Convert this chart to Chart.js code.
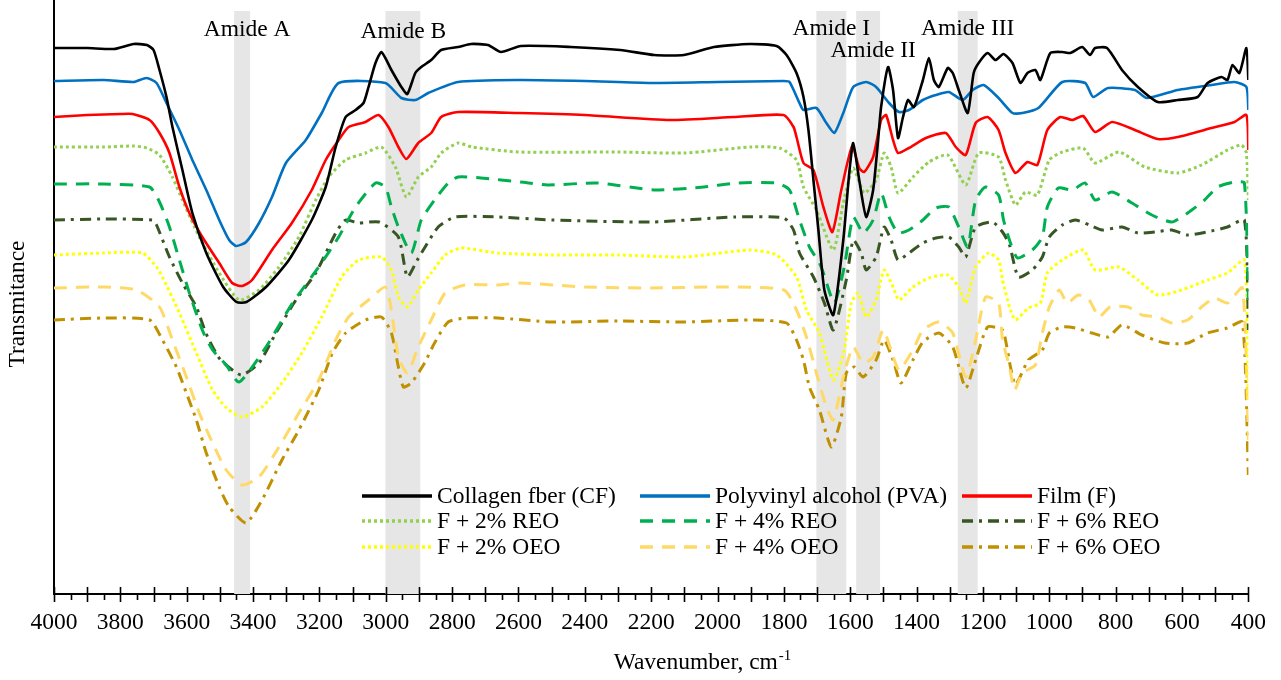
<!DOCTYPE html>
<html>
<head>
<meta charset="utf-8">
<script src="https://cdn.jsdelivr.net/npm/chart.js@4.4.1/dist/chart.umd.min.js"></script>
<style>
html,body{margin:0;padding:0;background:#fff;}
#wrap{width:1281px;height:680px;position:relative;}
</style>
</head>
<body>
<div id="wrap"><canvas id="c"></canvas></div>
<script>
// ---- DATA (wavenumber cm-1, transmittance in arbitrary offset units) ----
const seriesNames = ['Collagen fber (CF)','Polyvinyl alcohol (PVA)','Film (F)','F + 2% REO','F + 4% REO','F + 6% REO','F + 2% OEO','F + 4% OEO','F + 6% OEO'];

const cf = [[4000,546],[3900,546],[3820,545],[3760,550],[3720,549],[3700,544],[3682,524],[3661,497],[3643,467],[3613,424],[3583,381],[3541,341],[3490,307],[3450,292],[3420,292],[3361,307],[3292,334],[3223,374],[3181,407],[3151,447],[3121,477],[3091,484],[3067,491],[3052,507],[3031,531],[3013,542],[2983,524],[2953,507],[2935,500],[2911,521],[2893,527],[2863,534],[2833,544],[2782,547],[2743,550],[2692,549],[2653,542],[2593,548],[2443,547],[2293,544],[2191,539],[2101,539],[2011,547],[1903,550],[1822,548],[1792,539],[1762,521],[1741,497],[1726,464],[1711,414],[1696,364],[1678,304],[1651,279],[1621,354],[1603,421],[1591,451],[1573,414],[1552,377],[1531,404],[1516,454],[1507,487],[1486,527],[1471,504],[1456,456],[1441,477],[1426,494],[1408,487],[1381,514],[1363,536],[1348,514],[1333,507],[1306,526],[1291,521],[1273,504],[1246,481],[1228,521],[1213,531],[1186,541],[1162,534],[1138,540],[1111,531],[1087,511],[1066,521],[1042,524],[1027,514],[997,541],[961,542],[937,541],[901,547],[877,539],[862,546],[826,546],[781,524],[733,507],[673,492],[613,494],[553,497],[523,511],[481,517],[463,514],[448,529],[427,521],[406,546],[400,514]];

const pva = [[4000,513],[3850,514],[3760,512],[3721,516],[3691,511],[3661,491],[3622,464],[3583,434],[3541,404],[3502,374],[3472,354],[3451,348],[3421,352],[3382,371],[3343,397],[3301,431],[3241,454],[3193,481],[3142,511],[3001,511],[2953,496],[2911,494],[2872,501],[2782,512],[2600,514],[2400,513],[2200,511],[2000,512],[1800,513],[1783,512],[1753,491],[1741,484],[1702,486],[1672,471],[1648,461],[1621,481],[1591,507],[1552,512],[1522,507],[1483,491],[1453,482],[1423,484],[1381,494],[1342,499],[1303,502],[1261,494],[1231,504],[1198,509],[1153,496],[1111,481],[1081,481],[1033,486],[961,512],[892,511],[868,497],[823,506],[742,504],[706,496],[613,504],[511,509],[442,512],[406,507],[400,484]];

const film = [[4000,477],[3900,479],[3800,480],[3763,480],[3712,474],[3682,461],[3652,441],[3622,407],[3592,381],[3553,357],[3502,331],[3463,311],[3433,308],[3403,314],[3343,344],[3283,371],[3223,404],[3181,434],[3142,454],[3112,467],[3061,472],[3022,479],[2992,467],[2962,447],[2938,435],[2902,451],[2863,461],[2833,477],[2782,482],[2600,481],[2400,479],[2143,474],[1950,477],[1801,479],[1771,467],[1762,457],[1741,431],[1711,424],[1681,387],[1654,362],[1627,404],[1594,448],[1573,426],[1558,422],[1531,437],[1507,474],[1492,479],[1471,454],[1456,441],[1423,446],[1372,456],[1312,461],[1282,447],[1252,439],[1222,471],[1186,477],[1153,464],[1132,441],[1102,421],[1066,432],[1036,429],[1006,464],[967,477],[931,474],[898,478],[862,462],[811,472],[742,464],[673,455],[613,457],[511,466],[442,472],[406,479],[400,444]];

const reo2 = [[4000,447],[3850,447],[3760,448],[3720,446],[3682,439],[3643,417],[3613,394],[3562,357],[3502,321],[3442,294],[3382,304],[3322,327],[3262,357],[3211,394],[3172,417],[3121,434],[3061,441],[3013,447],[2971,427],[2938,397],[2902,417],[2863,427],[2833,441],[2782,451],[2740,447],[2600,442],[2300,442],[2100,441],[1900,447],[1813,446],[1762,434],[1741,407],[1702,384],[1651,344],[1621,391],[1591,426],[1558,401],[1522,414],[1498,441],[1477,427],[1456,401],[1411,417],[1363,432],[1306,439],[1252,409],[1213,441],[1153,437],[1132,414],[1102,389],[1072,402],[1036,399],[1000,434],[961,442],[898,446],[862,431],[790,442],[712,427],[613,421],[541,429],[463,444],[421,449],[406,441],[400,394]];

const reo4 = [[4000,410],[3850,410],[3712,407],[3682,392],[3652,367],[3622,334],[3592,301],[3553,264],[3522,244],[3481,229],[3442,212],[3361,247],[3281,291],[3202,327],[3142,357],[3091,387],[3031,411],[3001,407],[2983,387],[2962,367],[2923,341],[2893,374],[2853,394],[2812,411],[2782,417],[2713,416],[2593,412],[2512,409],[2362,411],[2191,404],[2041,407],[1942,411],[1822,411],[1783,404],[1753,374],[1723,347],[1693,331],[1681,321],[1648,291],[1618,327],[1591,377],[1561,361],[1531,374],[1507,401],[1483,377],[1456,361],[1423,364],[1381,374],[1342,386],[1303,387],[1273,367],[1246,347],[1222,394],[1192,407],[1153,399],[1138,374],[1117,351],[1096,336],[1051,344],[1021,357],[1006,387],[973,406],[931,404],[892,411],[862,394],[811,402],[751,391],[691,379],[631,372],[583,381],[532,394],[493,407],[442,412],[412,411],[400,294]];

const reo6 = [[4000,374],[3850,375],[3703,374],[3691,369],[3652,337],[3613,311],[3571,287],[3541,260],[3500,235],[3436,219],[3382,231],[3331,261],[3271,294],[3211,321],[3151,361],[3121,374],[3082,371],[3020,372],[2962,357],[2935,317],[2905,334],[2842,367],[2791,377],[2662,377],[2500,374],[2200,372],[1950,377],[1800,376],[1771,364],[1753,341],[1711,317],[1678,291],[1651,264],[1612,314],[1591,354],[1567,341],[1552,324],[1522,337],[1498,367],[1477,354],[1456,334],[1423,341],[1381,351],[1342,356],[1303,357],[1273,347],[1252,337],[1222,367],[1171,372],[1141,362],[1120,349],[1093,317],[1051,324],[1021,337],[1000,357],[961,369],[922,374],[880,369],[841,364],[781,367],[733,361],[682,362],[631,364],[583,359],[511,363],[463,367],[412,374],[400,264]];

const oeo2 = [[4000,339],[3850,341],[3733,341],[3691,327],[3673,317],[3622,281],[3571,241],[3522,204],[3480,186],[3433,177],[3373,187],[3313,211],[3253,241],[3193,277],[3133,317],[3082,334],[3013,337],[2983,324],[2962,297],[2935,287],[2902,304],[2863,321],[2821,339],[2773,346],[2662,341],[2500,339],[2300,339],[2100,337],[1903,344],[1822,339],[1762,317],[1732,284],[1693,261],[1651,214],[1620,241],[1597,291],[1576,301],[1552,277],[1522,294],[1498,324],[1471,307],[1453,294],[1411,307],[1363,316],[1306,319],[1273,307],[1252,291],[1222,327],[1183,341],[1153,334],[1141,314],[1120,287],[1102,274],[1063,286],[1027,291],[1006,321],[961,334],[898,344],[862,324],[790,327],[733,314],[673,299],[601,304],[523,314],[463,321],[412,334],[400,194]];

const oeo4 = [[4000,306],[3850,307],[3751,304],[3682,287],[3643,254],[3601,217],[3562,181],[3522,151],[3481,124],[3433,109],[3382,117],[3322,147],[3262,181],[3202,214],[3151,254],[3112,277],[3052,294],[3001,307],[2983,284],[2962,237],[2935,221],[2902,247],[2863,274],[2821,301],[2761,309],[2662,309],[2593,311],[2400,307],[2200,306],[2000,307],[1800,304],[1762,284],[1732,257],[1702,221],[1672,187],[1651,174],[1618,221],[1591,247],[1561,231],[1531,237],[1501,264],[1477,244],[1453,224],[1411,244],[1381,264],[1333,272],[1291,261],[1252,217],[1222,254],[1192,297],[1153,291],[1141,254],[1120,227],[1105,204],[1081,221],[1042,229],[1021,261],[1000,287],[970,304],[946,291],[913,299],[880,294],[850,277],[817,287],[763,287],[721,279],[673,277],[631,271],[583,274],[541,287],[502,296],[463,291],[418,306],[400,154]];

const oeo6 = [[4000,274],[3850,276],[3712,274],[3673,254],[3631,227],[3601,201],[3571,174],[3541,141],[3502,107],[3472,87],[3421,71],[3373,94],[3313,134],[3262,164],[3202,204],[3161,241],[3121,261],[3061,274],[3013,277],[2983,261],[2962,227],[2947,207],[2923,211],[2883,231],[2853,251],[2812,272],[2761,276],[2662,276],[2500,272],[2300,273],[2100,272],[1900,274],[1792,271],[1762,254],[1741,234],[1723,207],[1693,184],[1657,147],[1627,177],[1612,221],[1588,227],[1561,217],[1522,234],[1498,254],[1471,234],[1447,211],[1411,234],[1381,252],[1333,261],[1291,247],[1252,206],[1222,234],[1186,267],[1141,264],[1132,254],[1117,227],[1102,209],[1063,234],[1021,244],[1000,261],[961,267],[922,266],[871,261],[823,257],[781,269],[721,259],[652,251],[583,251],[523,261],[463,266],[418,272],[400,119]];

const seriesData = [cf, pva, film, reo2, reo4, reo6, oeo2, oeo4, oeo6];

// shaded absorption bands [high wavenumber, low wavenumber] and their labels
const bands = [[3457,3409],[3001,2896],[1702,1612],[1582,1510],[1276,1216]];
const bandLabels = ['Amide A','Amide B','Amide I','Amide II','Amide III'];
const bandLabelWn = [3418,2947,1657,1531,1246];
const xTitle = 'Wavenumber, cm';
const xTitleSup = '-1';
const yTitle = 'Transmitance';

// ---- STYLE ----
const FONT = '"Liberation Serif", "Times New Roman", serif';
const FS = 23.5;
const colors = ['#000000','#0070c0','#ff0000','#92d050','#00b050','#375623','#ffff00','#ffd966','#bf9000'];
const dashes = [[],[],[],[3,3],[13,9],[11,6,3,6],[3,3],[13,9],[11,6,3,6]];
const widths = [2.6,2.6,2.6,3,3,3,3,3,3];
const labelBaselines = [36,38,35,57,35];
const bandTopPx = 11;
const legendCols = [362,640,962];
const legendRows = [496,521,547];
const xTitleCenter = 702, xTitleBaseline = 669;
const yTitleX = 18, yTitleY = 304;

const overlay = {
  id: 'overlay',
  beforeDatasetsDraw(chart) {
    const {ctx, chartArea: a, scales: {x}} = chart;
    ctx.save();
    ctx.fillStyle = '#e6e6e6';
    bands.forEach(([hi, lo]) => {
      const x1 = x.getPixelForValue(hi), x2 = x.getPixelForValue(lo);
      ctx.fillRect(x1, bandTopPx, x2 - x1, a.bottom - bandTopPx);
    });
    ctx.restore();
  },
  afterDatasetsDraw(chart) {
    const {ctx, chartArea: a, scales: {x}} = chart;
    ctx.save();
    // tick marks
    ctx.strokeStyle = '#000';
    ctx.lineWidth = 1.6;
    ctx.setLineDash([]);
    for (let v = 400; v <= 4000; v += 50) {
      const px = Math.round(x.getPixelForValue(v)) + 0.5;
      ctx.beginPath();
      if (v % 100 === 0) { ctx.moveTo(px, a.bottom - 7); ctx.lineTo(px, a.bottom + 8); }
      else { ctx.moveTo(px, a.bottom); ctx.lineTo(px, a.bottom + 6); }
      ctx.stroke();
    }
    // band labels
    ctx.fillStyle = '#000';
    ctx.font = FS + 'px ' + FONT;
    ctx.textAlign = 'center';
    ctx.textBaseline = 'alphabetic';
    bandLabels.forEach((t, i) => {
      ctx.fillText(t, x.getPixelForValue(bandLabelWn[i]), labelBaselines[i]);
    });
    // y axis title
    ctx.save();
    ctx.translate(yTitleX, yTitleY);
    ctx.rotate(-Math.PI / 2);
    ctx.textBaseline = 'middle';
    ctx.fillText(yTitle, 0, 0);
    ctx.restore();
    // x axis title with superscript
    ctx.textAlign = 'left';
    ctx.textBaseline = 'alphabetic';
    ctx.font = FS + 'px ' + FONT;
    const w1 = ctx.measureText(xTitle).width;
    ctx.font = '15px ' + FONT;
    const w2 = ctx.measureText(xTitleSup).width;
    const sx = xTitleCenter - (w1 + w2) / 2;
    ctx.font = FS + 'px ' + FONT;
    ctx.fillText(xTitle, sx, xTitleBaseline);
    ctx.font = '15px ' + FONT;
    ctx.fillText(xTitleSup, sx + w1 + 1, xTitleBaseline - 9);
    // legend
    ctx.font = FS + 'px ' + FONT;
    ctx.textBaseline = 'middle';
    chart.data.datasets.forEach((ds, i) => {
      const cx = legendCols[i % 3], cy = legendRows[Math.floor(i / 3)];
      ctx.strokeStyle = ds.borderColor;
      ctx.lineWidth = 3.5;
      ctx.setLineDash(ds.borderDash || []);
      ctx.beginPath(); ctx.moveTo(cx, cy); ctx.lineTo(cx + 70, cy); ctx.stroke();
      ctx.setLineDash([]);
      ctx.fillStyle = '#000';
      ctx.fillText(ds.label, cx + 75, cy + 1);
    });
    ctx.restore();
  }
};

const datasets = seriesData.map((s, i) => ({
  label: seriesNames[i],
  data: s.map(p => ({x: p[0], y: p[1]})),
  borderColor: colors[i],
  borderWidth: widths[i],
  borderDash: dashes[i],
  pointRadius: 0,
  tension: 0.2,
  fill: false
}));

new Chart(document.getElementById('c'), {
  type: 'line',
  data: {datasets},
  plugins: [overlay],
  options: {
    responsive: true,
    maintainAspectRatio: false,
    animation: false,
    layout: {padding: {left: 0, right: 28, top: 0, bottom: 0}},
    plugins: {legend: {display: false}, tooltip: {enabled: false}},
    scales: {
      x: {
        type: 'linear', reverse: true, min: 400, max: 4000,
        afterFit(s) { s.height = 86; },
        grid: {display: false, drawTicks: false},
        border: {display: true, color: '#000', width: 2},
        ticks: {stepSize: 200, padding: 15, color: '#000', font: {family: FONT, size: FS}, maxRotation: 0, autoSkip: false,
                callback: v => String(v)},
        title: {display: false}
      },
      y: {
        type: 'linear', min: 0, max: 594,
        afterFit(s) { s.width = 54; },
        grid: {display: false, drawTicks: false},
        border: {display: true, color: '#000', width: 2},
        ticks: {display: false},
        title: {display: false}
      }
    }
  }
});
</script>
</body>
</html>
